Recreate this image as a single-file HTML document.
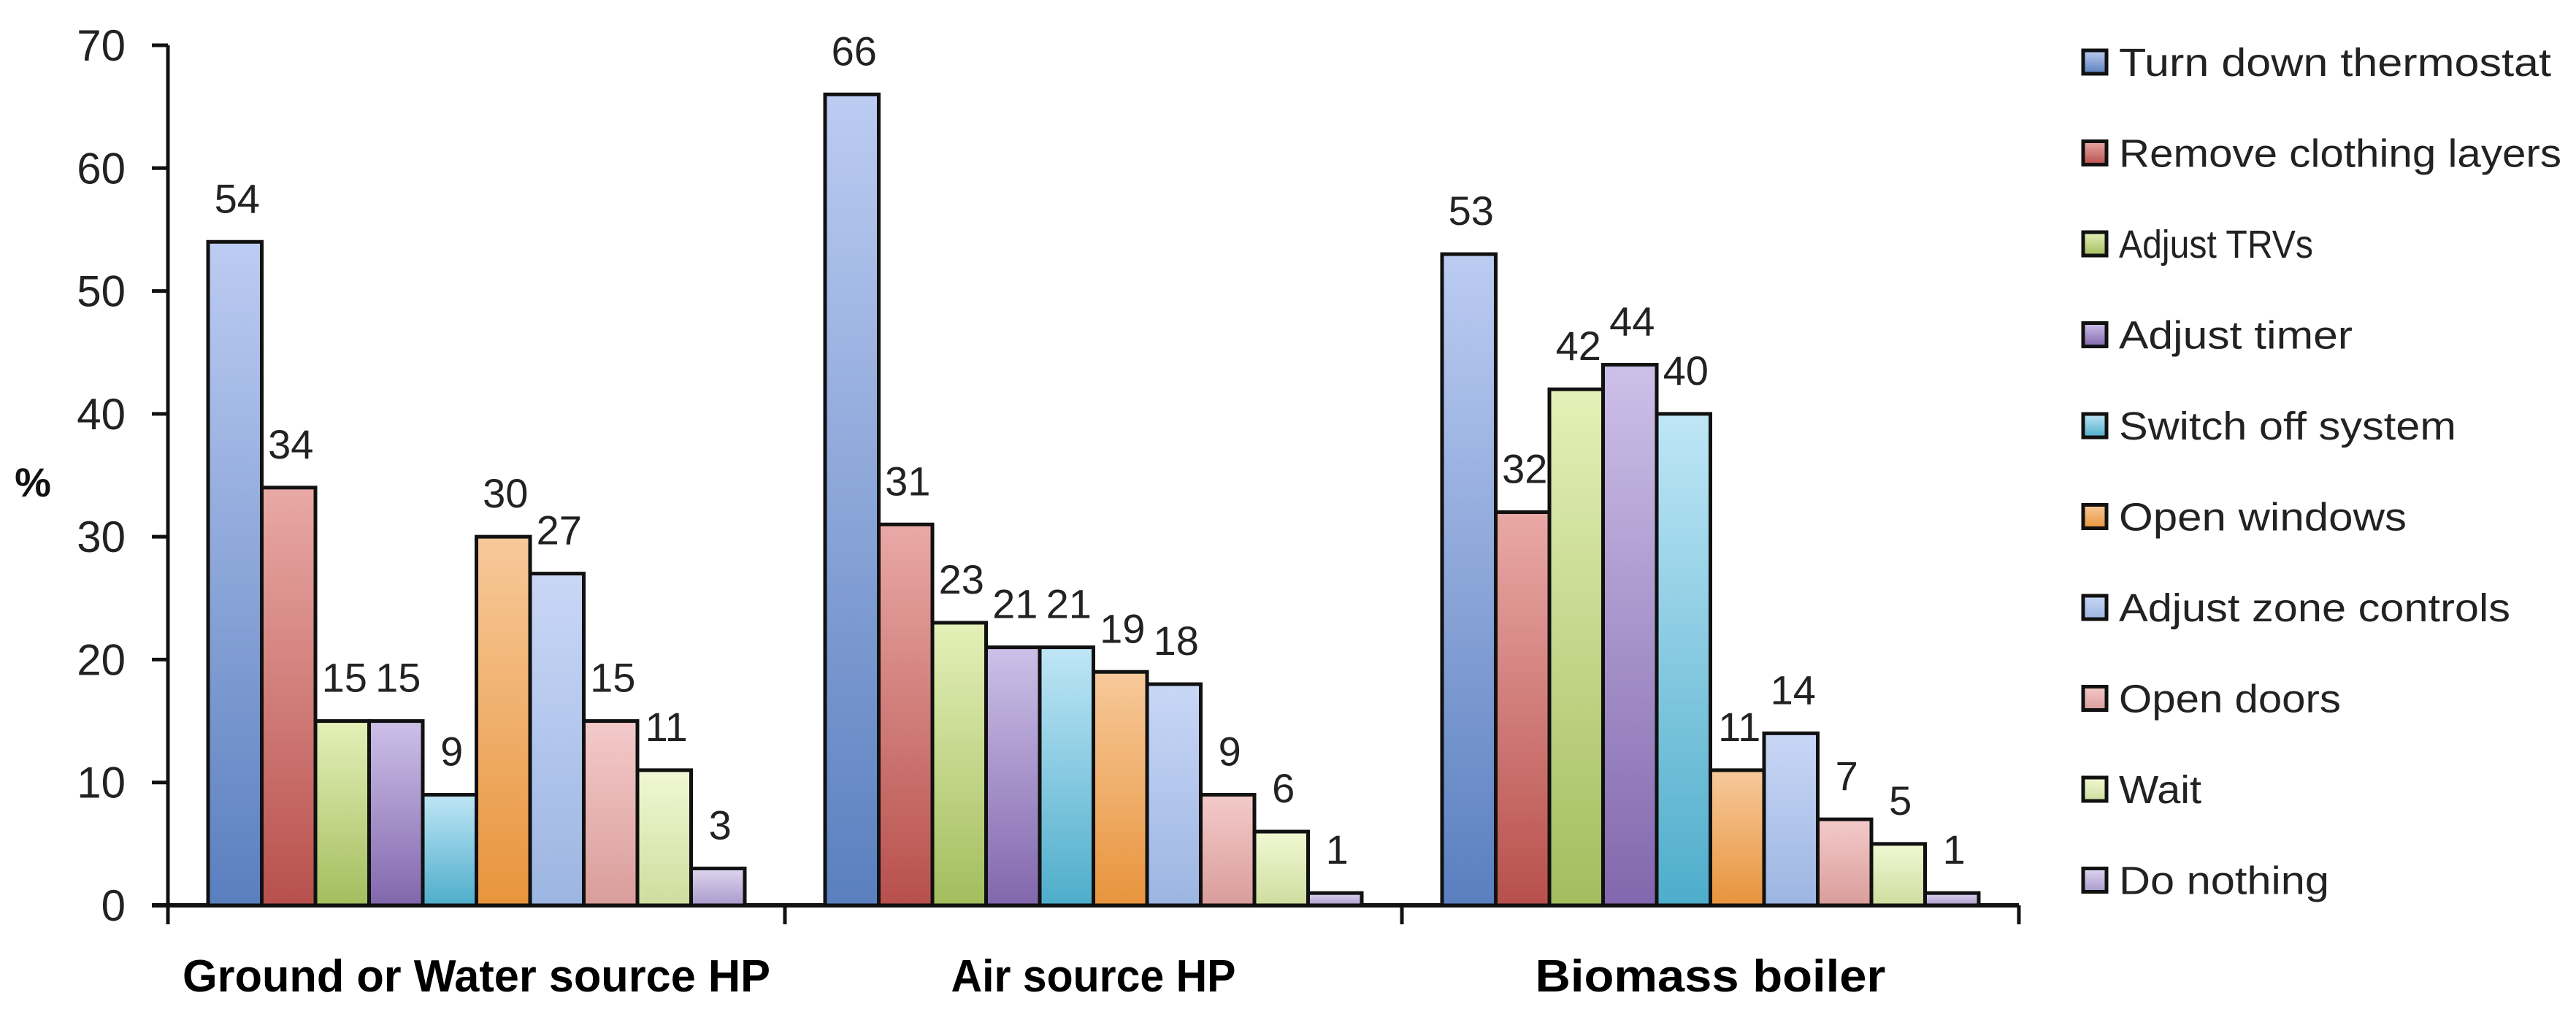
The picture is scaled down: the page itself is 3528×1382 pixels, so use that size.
<!DOCTYPE html>
<html><head><meta charset="utf-8"><style>
html,body{margin:0;padding:0;background:#fff;}
svg{display:block;font-family:"Liberation Sans",sans-serif;}
</style></head><body>
<svg id="chart" width="3528" height="1382" viewBox="0 0 3528 1382" xmlns="http://www.w3.org/2000/svg">
<defs id="defs"></defs>
<g id="axes"></g>
<g id="bars"></g>
<g id="legend"></g>
</svg>
<script>
const categories = ["Ground or Water source HP", "Air source HP", "Biomass boiler"];
const seriesNames = ["Turn down thermostat","Remove clothing layers","Adjust TRVs","Adjust timer","Switch off system","Open windows","Adjust zone controls","Open doors","Wait","Do nothing"];
const groundValues = [54,34,15,15,9,30,27,15,11,3];
const airValues = [66,31,23,21,21,19,18,9,6,1];
const biomassValues = [53,32,42,44,40,11,14,7,5,1];
const yTicks = [0,10,20,30,40,50,60,70];
const seriesTop = ["#BCCCF2","#E9A9A6","#E4F0B8","#CDC0E8","#BFE6F6","#F7C99A","#C9D7F6","#F4CACA","#F1F8D3","#DDD6EF"];
const seriesBottom = ["#5A7FBF","#B8504C","#A3BD5E","#8167AD","#4EADCB","#E8943C","#9CB5E2","#D99D9A","#CFDD9F","#AA9ACC"];

const NS="http://www.w3.org/2000/svg";
const allValues=[groundValues,airValues,biomassValues];
const X0=230, X1=2765, Y0=1240, YTOP=62, YMAX=70;
const groupW=(X1-X0)/categories.length, barW=73.5, pad=(groupW-barW*10)/2;
function yScale(v){return Y0-(v/YMAX)*(Y0-YTOP);}
function xBar(g,i){return X0+g*groupW+pad+i*barW;}
function mk(tag,attrs,parent){const e=document.createElementNS(NS,tag);for(const k in attrs)e.setAttribute(k,attrs[k]);parent.appendChild(e);return e;}
const defs=document.getElementById('defs'),axes=document.getElementById('axes'),bars=document.getElementById('bars'),legend=document.getElementById('legend');
seriesNames.forEach((n,i)=>{const lg=mk('linearGradient',{id:'g'+i,x1:0,y1:0,x2:0,y2:1},defs);
mk('stop',{offset:'0','stop-color':seriesTop[i]},lg);mk('stop',{offset:'1','stop-color':seriesBottom[i]},lg);});

// bars
allValues.forEach((vals,g)=>{vals.forEach((v,i)=>{
 const x=xBar(g,i), y=yScale(v);
 const r=mk('rect',{x:x,y:y,width:barW,height:Y0-y,fill:'url(#g'+i+')',stroke:'#111','stroke-width':5},bars);
 
 
 const t=mk('text',{x:x+barW/2+3,y:y-40,'text-anchor':'middle','font-size':56,fill:'#222'},bars);
 t.textContent=v;
 
 
});});

// y axis
mk('line',{x1:X0,y1:YTOP,x2:X0,y2:Y0+2,stroke:'#111','stroke-width':5},axes);
yTicks.forEach(v=>{const y=yScale(v);
 mk('line',{x1:208,y1:y,x2:X0,y2:y,stroke:'#111','stroke-width':5},axes);
 const t=mk('text',{x:172,y:y+21,'text-anchor':'end','font-size':60,fill:'#222'},axes);
 t.textContent=v;
 
 
});
const yt=mk('text',{x:45,y:680,'text-anchor':'middle','font-size':56,'font-weight':'bold',fill:'#111'},axes);
yt.textContent='%';


// x axis
mk('line',{x1:X0-22,y1:Y0,x2:X1,y2:Y0,stroke:'#111','stroke-width':6},axes);
const catLens=[805,390,480];
categories.forEach((c,g)=>{
 const xr=X0+(g+1)*groupW;
 mk('line',{x1:xr,y1:Y0,x2:xr,y2:Y0+26,stroke:'#111','stroke-width':5},axes);
 const t=mk('text',{x:X0+g*groupW+groupW/2,y:1358,'text-anchor':'middle','font-size':62,'font-weight':'bold',fill:'#000',textLength:catLens[g],lengthAdjust:'spacingAndGlyphs'},axes);
 t.textContent=c;
 
 
});
mk('line',{x1:X0,y1:Y0,x2:X0,y2:Y0+26,stroke:'#111','stroke-width':5},axes);

// legend
const legLens=[592,606,266,320,462,394,536,304,113,288];
seriesNames.forEach((n,i)=>{
 const cy=85+i*124.5;
 const g=mk('g',{},legend);
 
 
 mk('rect',{x:2853,y:cy-16,width:32,height:32,fill:'url(#g'+i+')',stroke:'#111','stroke-width':5},g);
 const t=mk('text',{x:2902,y:cy+19,'font-size':54,fill:'#222',textLength:legLens[i],lengthAdjust:'spacingAndGlyphs'},g);
 t.textContent=n;
});
</script>
</body></html>
